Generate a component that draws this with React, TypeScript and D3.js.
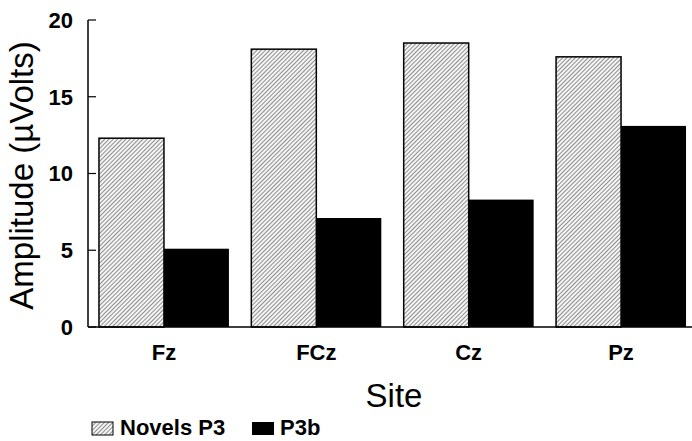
import React from "react";
import * as d3 from "d3";

const sites = ["Fz", "FCz", "Cz", "Pz"];
const novelsP3 = [12.3, 18.1, 18.5, 17.6];
const p3b = [5.1, 7.1, 8.3, 13.1];
const yTicks = [0, 5, 10, 15, 20];

const W = 692;
const H = 441;
const margin = { top: 20, left: 88, bottom: 114 };
const font = "'Liberation Sans', Arial, Helvetica, sans-serif";

const App = () => {
  const x = d3
    .scaleBand<string>()
    .domain(sites)
    .range([margin.left, 697])
    .paddingInner(0.147)
    .paddingOuter(0.072);

  const sub = d3
    .scaleBand<string>()
    .domain(["novels", "p3b"])
    .range([0, x.bandwidth()]);

  const y = d3
    .scaleLinear()
    .domain([0, 20])
    .range([H - margin.bottom, margin.top]);

  const y0 = y(0);

  return (
    <svg width={W} height={H} style={{ display: "block", position: "absolute", left: 0, top: 0, background: "#fff" }}>
      <defs>
        <pattern id="hatch" width="3" height="3" patternUnits="userSpaceOnUse" patternTransform="rotate(45)">
          <rect width="3" height="3" fill="#f4f4f4" />
          <line x1="0" y1="0" x2="0" y2="3" stroke="#3a3a3a" strokeWidth="1.1" />
        </pattern>
      </defs>

      {/* bars */}
      {sites.map((s, i) => (
        <g key={s} transform={`translate(${x(s)},0)`}>
          <rect
            x={sub("novels")}
            y={y(novelsP3[i])}
            width={sub.bandwidth()}
            height={y0 - y(novelsP3[i])}
            fill="url(#hatch)"
            stroke="#000"
            strokeWidth={1.5}
          />
          <rect
            x={sub("p3b")}
            y={y(p3b[i])}
            width={sub.bandwidth()}
            height={y0 - y(p3b[i])}
            fill="#000"
          />
        </g>
      ))}

      {/* axes */}
      <line x1={margin.left} x2={margin.left} y1={y(20)} y2={y0} stroke="#000" strokeWidth={1.5} />
      <line x1={margin.left} x2={W} y1={y0} y2={y0} stroke="#000" strokeWidth={1.5} />
      {yTicks.map((t) => (
        <g key={t}>
          <line x1={margin.left} x2={margin.left + 8} y1={y(t)} y2={y(t)} stroke="#000" strokeWidth={1.2} />
          <text
            x={73}
            y={y(t)}
            dy="0.36em"
            textAnchor="end"
            fontFamily={font}
            fontWeight="bold"
            fontSize={22}
          >
            {t}
          </text>
        </g>
      ))}

      {sites.map((s) => (
        <text
          key={s}
          x={(x(s) as number) + x.bandwidth() / 2}
          y={360}
          textAnchor="middle"
          fontFamily={font}
          fontWeight="bold"
          fontSize={22}
        >
          {s}
        </text>
      ))}

      <text
        transform={`translate(33,${(y(20) + y0) / 2 + 2}) rotate(-90)`}
        textAnchor="middle"
        fontFamily={font}
        fontSize={33}
      >
        Amplitude (µVolts)
      </text>

      <text x={394} y={407} textAnchor="middle" fontFamily={font} fontSize={33}>
        Site
      </text>

      {/* legend */}
      <rect x={92} y={422} width={21} height={13} fill="url(#hatch)" stroke="#000" strokeWidth={1} />
      <text x={120} y={435} fontFamily={font} fontWeight="bold" fontSize={22}>
        Novels P3
      </text>
      <rect x={252} y={422} width={22} height={13} fill="#000" />
      <text x={280} y={435} fontFamily={font} fontWeight="bold" fontSize={22}>
        P3b
      </text>
    </svg>
  );
};

export default App;
